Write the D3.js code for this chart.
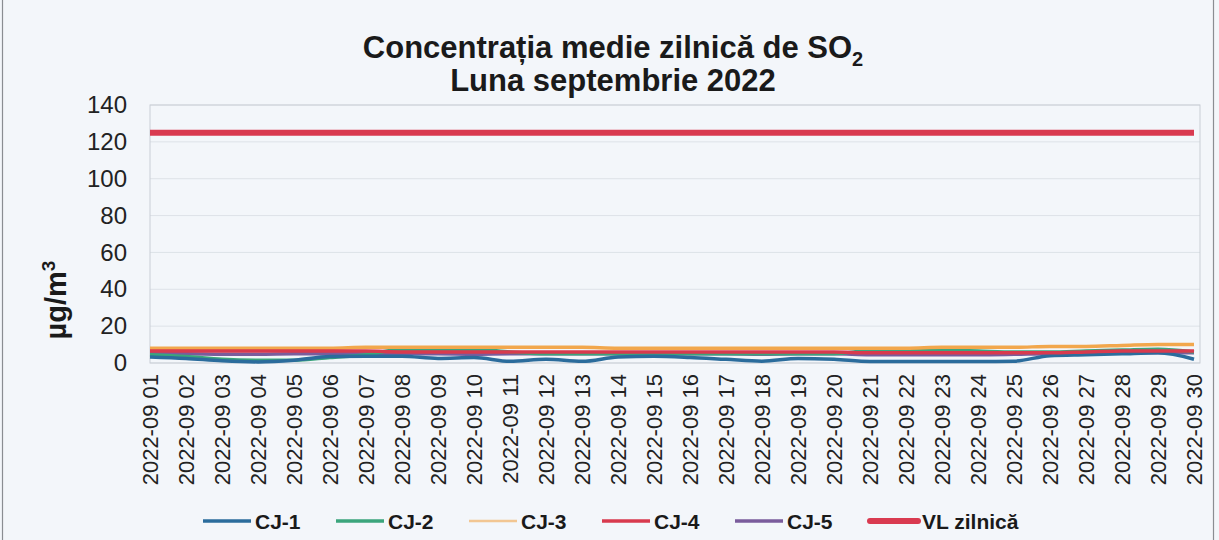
<!DOCTYPE html>
<html><head><meta charset="utf-8">
<script src="https://cdn.jsdelivr.net/npm/d3@7"></script>
<style>
html,body{margin:0;padding:0;background:#f3f6fa;}
svg{display:block;font-family:Arial,"Liberation Sans",sans-serif;}
</style></head>
<body>
<svg id="chart" width="1219" height="540"></svg>
<script>
const days = ["2022-09 01","2022-09 02","2022-09 03","2022-09 04","2022-09 05","2022-09 06","2022-09 07","2022-09 08","2022-09 09","2022-09 10","2022-09 11","2022-09 12","2022-09 13","2022-09 14","2022-09 15","2022-09 16","2022-09 17","2022-09 18","2022-09 19","2022-09 20","2022-09 21","2022-09 22","2022-09 23","2022-09 24","2022-09 25","2022-09 26","2022-09 27","2022-09 28","2022-09 29","2022-09 30"];
const cj1 = [3.3, 2.5, 1.2, 0.6, 1.5, 3.5, 3.7, 3.7, 2.5, 3, 0.9, 2, 0.9, 3.2, 3.6, 3, 2, 1, 2.5, 2, 0.8, 0.8, 0.8, 0.8, 1, 4, 4.5, 5, 5.5, 2];
const cj2 = [4.5, 3.5, 2, 1.5, 1.5, 3, 4.5, 7.5, 7.5, 7.5, 6, 5, 5, 5, 5, 5, 5, 5, 5, 5, 7, 7.5, 7, 6.5, 6, 6, 6.5, 7, 7.5, 6];
const cj3 = [8, 8, 8, 8, 8, 8, 8.5, 8.5, 8.5, 8.5, 8.5, 8.5, 8.5, 8, 8, 8, 8, 8, 8, 8, 8, 8, 8.5, 8.5, 8.5, 9, 9, 9.5, 10, 10];
const cj4 = [6.5, 6.5, 6.5, 6.5, 6.5, 6.5, 6.5, 6, 6, 6, 6, 6, 6, 6, 6, 6, 6, 6, 6, 6, 5.5, 5.5, 5.5, 5.5, 5.5, 5.5, 6, 6.5, 6.5, 6.5];
const cj5 = [5, 5, 4.8, 4.8, 5, 5, 5.2, 5, 5, 4.8, 5, 5, 5, 5, 5.2, 5, 5, 4.8, 5, 5, 4.5, 4.5, 4.5, 4.5, 4.7, 5, 5, 5.5, 5.5, 5.5];
const vl = [125,125,125,125,125,125,125,125,125,125,125,125,125,125,125,125,125,125,125,125,125,125,125,125,125,125,125,125,125,125];
const yTicks = [0, 20, 40, 60, 80, 100, 120, 140];

const seriesNames = ["CJ-1","CJ-2","CJ-3","CJ-4","CJ-5","VL zilnică"];
const seriesData = [cj1, cj2, cj3, cj4, cj5, vl];
const colors = ["#2b6c9c","#3ba57c","#f2a74c","#d83a4e","#7a5c9c","#d93a50"];
const widths = [3.5, 3.5, 3.5, 3.5, 3.5, 6];
const drawOrder = [4, 1, 0, 2, 3, 5];

const svg = d3.select("#chart");
const W = 1219, H = 540;
const pLeft = 150, pRight = 1200, pTop = 105, pBottom = 363;

svg.append("rect").attr("x",0).attr("y",0).attr("width",W).attr("height",H).attr("fill","#f3f6fa");
svg.append("rect").attr("x",2.5).attr("y",-5).attr("width",1211).attr("height",H+10)
  .attr("fill","none").attr("stroke","#8a8d92").attr("stroke-width",1.2);

const x = d3.scalePoint().domain(days).range([pLeft, pRight-6]);
const y = d3.scaleLinear().domain([0, 140]).range([pBottom, pTop]);

svg.append("g").selectAll("line").data(yTicks).join("line")
  .attr("x1", pLeft).attr("x2", pRight)
  .attr("y1", d => y(d)).attr("y2", d => y(d))
  .attr("stroke", "#dde2e8").attr("stroke-width", 1);
svg.append("rect").attr("x", pLeft).attr("y", pTop).attr("width", pRight-pLeft).attr("height", pBottom-pTop)
  .attr("fill","none").attr("stroke","#c9ced5").attr("stroke-width",1);

const yAxis = d3.axisLeft(y).tickValues(yTicks).tickSize(0).tickPadding(23);
const gy = svg.append("g").attr("transform", `translate(${pLeft},0)`).call(yAxis);
gy.select(".domain").remove();
gy.selectAll("text").attr("font-size", 24).attr("fill", "#222").attr("font-family","Arial,'Liberation Sans',sans-serif");

const yt = svg.append("text").attr("transform", "translate(66,300) rotate(-90)")
  .attr("text-anchor","middle").attr("font-size", 29).attr("font-weight","bold").attr("fill","#1a1a1a");
yt.append("tspan").text("µg/m");
yt.append("tspan").attr("dy", -11).attr("font-size", 19).text("3");

const xAxis = d3.axisBottom(x).tickSize(0).tickPadding(0);
const gx = svg.append("g").attr("transform", `translate(0,${pBottom})`).call(xAxis);
gx.select(".domain").remove();
gx.selectAll("text")
  .attr("transform", "rotate(-90)")
  .attr("text-anchor", "end")
  .attr("x", -11).attr("y", 0).attr("dy", "0.36em")
  .attr("font-size", 22).attr("fill", "#222").attr("font-family","Arial,'Liberation Sans',sans-serif");

const line = d3.line().x((d,i) => x(days[i])).y(d => y(d)).curve(d3.curveMonotoneX);
drawOrder.forEach(k => {
  svg.append("path").datum(seriesData[k])
    .attr("fill","none").attr("stroke", colors[k]).attr("stroke-width", widths[k])
    .attr("stroke-linejoin","round").attr("stroke-linecap","butt")
    .attr("d", line);
});

const t1 = svg.append("text").attr("x", 613).attr("y", 58).attr("text-anchor","middle")
  .attr("font-size", 31).attr("font-weight","bold").attr("fill","#1a1a1a");
t1.append("tspan").text("Concentrația medie zilnică de SO");
t1.append("tspan").attr("dy", 8).attr("font-size", 20).text("2");
svg.append("text").attr("x", 613).attr("y", 91).attr("text-anchor","middle")
  .attr("font-size", 31).attr("font-weight","bold").attr("fill","#1a1a1a")
  .text("Luna septembrie 2022");

const legX = [255, 388, 521, 654, 787, 922];
const lg = svg.append("g");
seriesNames.forEach((n, i) => {
  lg.append("line").attr("x1", legX[i]-52).attr("x2", legX[i]-4).attr("y1", 521).attr("y2", 521)
    .attr("stroke", colors[i]).attr("stroke-width", i === 5 ? 6 : (i === 2 ? 2.5 : 3.5))
    .attr("stroke-opacity", i === 2 ? 0.6 : 1)
    .attr("stroke-linecap", i === 5 ? "round" : "butt");
  lg.append("text").attr("x", legX[i]).attr("y", 529).attr("font-size", 21)
    .attr("font-weight","bold").attr("fill","#1a1a1a").text(n);
});
</script>
</body></html>
